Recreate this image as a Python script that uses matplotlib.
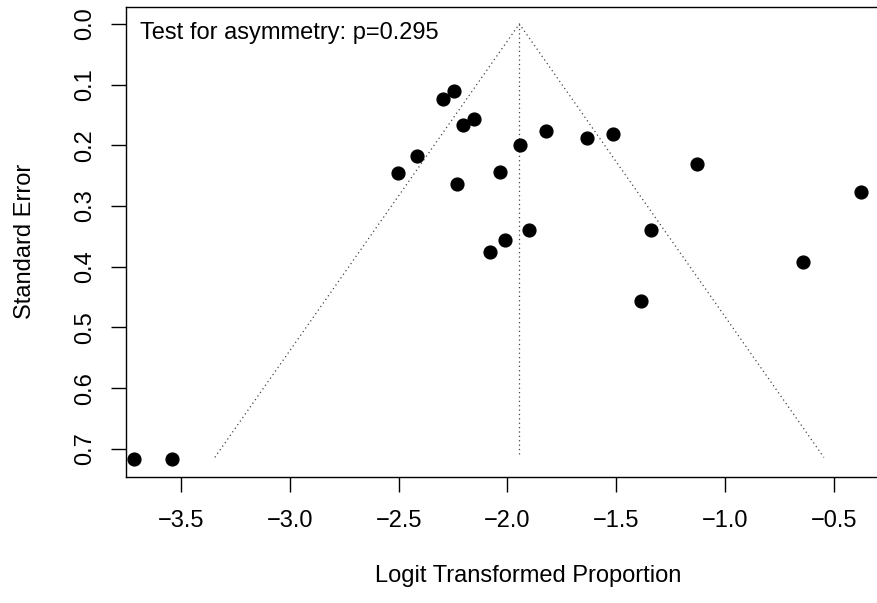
import matplotlib
matplotlib.use("Agg")
import matplotlib.pyplot as plt

plt.rcParams['font.family'] = ['Liberation Sans', 'DejaVu Sans']

# study estimates (logit proportion) and their standard errors
est = [-2.245, -2.295, -2.153, -2.203, -1.824, -1.633, -1.513, -1.942,
       -2.414, -2.504, -2.034, -2.233, -1.902, -2.010, -2.080, -1.127,
       -0.375, -1.341, -0.643, -1.387, -3.715, -3.543]
se = [0.110, 0.124, 0.157, 0.167, 0.177, 0.188, 0.182, 0.199,
      0.218, 0.246, 0.244, 0.264, 0.339, 0.356, 0.376, 0.231,
      0.277, 0.339, 0.392, 0.456, 0.716, 0.717]

pooled = -1.945
se_max = 0.714
xticks = [-3.5, -3.0, -2.5, -2.0, -1.5, -1.0, -0.5]
yticks = [0.0, 0.1, 0.2, 0.3, 0.4, 0.5, 0.6, 0.7]
note = "Test for asymmetry: p=0.295"

fig = plt.figure(figsize=(8.78, 6.03), dpi=100)
ax = fig.add_axes([0.1432, 0.2095, 0.916, 0.779])

dots = (0, (1, 2.5))
ax.plot([pooled - 1.96 * se_max, pooled, pooled + 1.96 * se_max],
        [se_max, 0, se_max], color='#444444', lw=0.9, linestyle=dots)
ax.plot([pooled, pooled], [0, se_max], color='#444444', lw=0.9, linestyle=dots)

ax.scatter(est, se, s=85, color='black', zorder=3)

ax.set_xlim(-3.754, -0.058)
ax.set_ylim(0.7458, -0.028)
ax.set_xticks(xticks)
ax.set_yticks(yticks)
ax.set_xticklabels(['\u2212%.1f' % abs(v) for v in xticks])
ax.set_yticklabels(['%.1f' % v for v in yticks], rotation=90, va='center')
ax.tick_params(length=11, width=1.0, labelsize=17, pad=10)
ax.tick_params(axis='x', pad=13)

for s in ax.spines.values():
    s.set_linewidth(1.0)

ax.set_xlabel('Logit Transformed Proportion', fontsize=17, labelpad=24)
ax.set_ylabel('Standard Error', fontsize=17, labelpad=28)

ax.text(0.0178, 0.931, note, transform=ax.transAxes, fontsize=17,
        ha='left', va='baseline')

fig.savefig('out.png', dpi=100)
